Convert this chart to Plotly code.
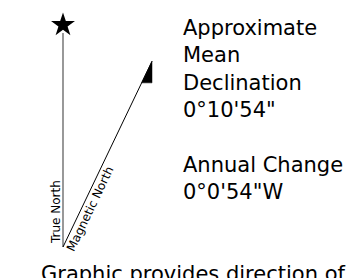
import math
import plotly.graph_objects as go

# Diagram values
declination_label = "0°10'54\""
annual_change_label = "0°0'54\"W"
diagram_angle_deg = 25.6          # exaggerated drawing angle of magnetic north
true_north_length = 222
magnetic_north_length = 206
arrowhead_length = 24
caption = "Graphic provides direction of"

W, H = 347, 278
ox, oy = 63, 247  # base point in figure pixels

a = math.radians(diagram_angle_deg)
mx, my = magnetic_north_length * math.sin(a), magnetic_north_length * math.cos(a)
bx, by = (magnetic_north_length - arrowhead_length) * math.sin(a), (magnetic_north_length - arrowhead_length) * math.cos(a)

fig = go.Figure()
fig.add_trace(go.Scatter(x=[0, 0], y=[0, true_north_length - 8], mode="lines",
                         line=dict(color="#7f7f7f", width=1.6), hoverinfo="skip"))
fig.add_trace(go.Scatter(x=[0], y=[true_north_length], mode="markers",
                         marker=dict(symbol="star", size=18, color="black"), hoverinfo="skip"))
fig.add_trace(go.Scatter(x=[0, mx], y=[0, my], mode="lines",
                         line=dict(color="black", width=1), hoverinfo="skip"))
fig.add_trace(go.Scatter(x=[bx, mx, mx, bx], y=[by, my, by, by], mode="lines",
                         fill="toself", fillcolor="black",
                         line=dict(color="black", width=0.5), hoverinfo="skip"))

fnt = "DejaVu Sans"
fig.add_annotation(x=-7, y=35, text="True North", textangle=-90, showarrow=False,
                   font=dict(family=fnt, size=12, color="black"))
d = 46
px_, py_ = d * math.sin(a) + 8 * math.cos(a), d * math.cos(a) - 8 * math.sin(a)
fig.add_annotation(x=px_, y=py_, text="Magnetic North", textangle=-(90 - diagram_angle_deg),
                   showarrow=False, font=dict(family=fnt, size=12, color="black"))
fig.add_annotation(x=183 - ox - 2, y=oy - 14, xanchor="left", yanchor="top", align="left",
                   text="Approximate<br>Mean<br>Declination<br>" + declination_label
                   + "<br><br>Annual Change<br>" + annual_change_label,
                   showarrow=False, font=dict(family=fnt, size=21, color="black"))
fig.add_annotation(x=193.5 - ox, y=oy - 260, xanchor="center", yanchor="top",
                   text=caption, showarrow=False,
                   font=dict(family=fnt, size=21, color="black"))

fig.update_layout(width=W, height=H, margin=dict(l=0, r=0, t=0, b=0),
                  paper_bgcolor="white", plot_bgcolor="white", showlegend=False,
                  xaxis=dict(range=[-ox, W - ox], visible=False, fixedrange=True),
                  yaxis=dict(range=[oy - H, oy], visible=False, fixedrange=True))
fig.write_html("out.html", config={"displayModeBar": False},
               post_script="document.body.style.margin='0';document.body.style.overflow='hidden';")
